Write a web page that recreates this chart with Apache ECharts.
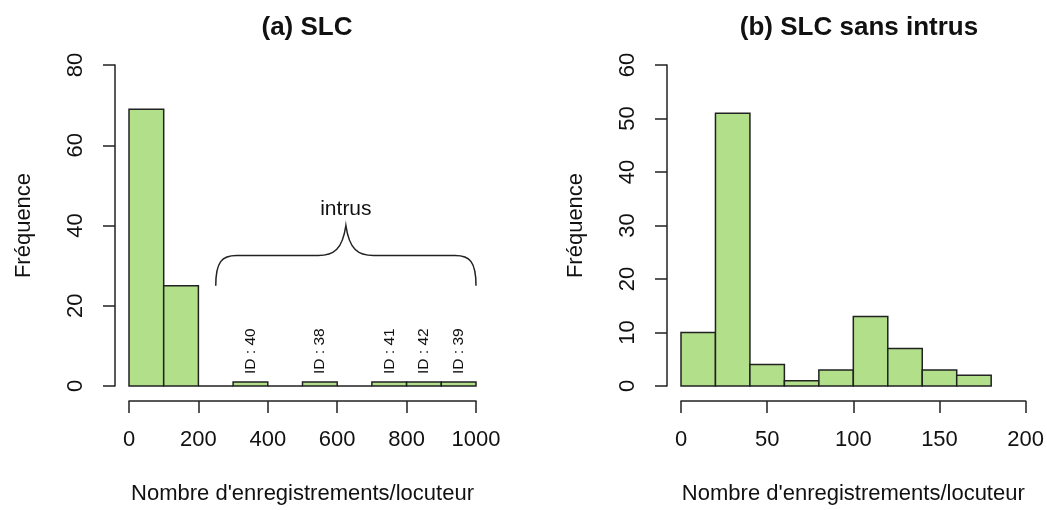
<!DOCTYPE html>
<html>
<head>
<meta charset="utf-8">
<script src="https://cdn.jsdelivr.net/npm/echarts@6/dist/echarts.min.js"></script>
<style>
html,body{margin:0;padding:0;background:#fff;}
#c{width:1047px;height:510px;}
</style>
</head>
<body>
<div id="c"></div>
<script>
// ---- data ----
const breaksA = [0, 100, 200, 300, 400, 500, 600, 700, 800, 900, 1000];
const countsA = [69, 25, 0, 1, 0, 1, 0, 1, 1, 1];
const breaksB = [0, 20, 40, 60, 80, 100, 120, 140, 160, 180];
const countsB = [10, 51, 4, 1, 3, 13, 7, 3, 2];
const idX = [350, 550, 750, 850, 950];
const idLabels = ['ID : 40', 'ID : 38', 'ID : 41', 'ID : 42', 'ID : 39'];
const idY = 3;
// brace annotation (data coords): left x, right x, base y, flat y, tip y
const brace = [250, 1000, 25, 32.5, 40];
const braceLabel = 'intrus';
const braceLabelY = 44;
const titles = ['(a) SLC', '(b) SLC sans intrus'];
const xName = "Nombre d'enregistrements/locuteur";
const yName = 'Fréquence';

const FONT = '"Liberation Sans", Arial, sans-serif';
const FILL = '#B2DF8A';
const INK = '#222';

function binData(breaks, counts) {
  return counts.map((c, i) => [breaks[i], breaks[i + 1], c]);
}

function histRender(params, api) {
  const a = api.coord([api.value(0), api.value(2)]);
  const b = api.coord([api.value(1), 0]);
  return {
    type: 'polygon',
    shape: { points: [[a[0], b[1]], [a[0], a[1]], [b[0], a[1]], [b[0], b[1]]] },
    style: { fill: FILL, stroke: INK, lineWidth: 1.5 }
  };
}

function xAxisCfg(grid, max, interval) {
  return {
    type: 'value', gridIndex: grid, min: 0, max: max, interval: interval,
    position: 'bottom', offset: 15,
    name: xName, nameLocation: 'middle', nameGap: 82,
    nameTextStyle: { fontFamily: FONT, fontSize: 22, color: '#111' },
    axisLine: { show: true, onZero: false, lineStyle: { color: INK, width: 1.5 } },
    axisTick: { show: true, length: 12, lineStyle: { color: INK, width: 1.5 } },
    axisLabel: { fontFamily: FONT, fontSize: 22, color: '#111', margin: 28,
                 formatter: v => String(v) },
    splitLine: { show: false }
  };
}
function yAxisCfg(grid, max, interval) {
  return {
    type: 'value', gridIndex: grid, min: 0, max: max, interval: interval,
    position: 'left', offset: 14,
    name: yName, nameLocation: 'middle', nameGap: 80,
    nameTextStyle: { fontFamily: FONT, fontSize: 22, color: '#111' },
    axisLine: { show: true, onZero: false, lineStyle: { color: INK, width: 1.5 } },
    axisTick: { show: true, length: 12, lineStyle: { color: INK, width: 1.5 } },
    axisLabel: { fontFamily: FONT, fontSize: 22, color: '#111', margin: 28, rotate: 90,
                 formatter: v => String(v) },
    splitLine: { show: false }
  };
}

const chart = echarts.init(document.getElementById('c'), null, { renderer: 'canvas' });
chart.setOption({
  backgroundColor: '#fff',
  animation: false,
  title: [
    { text: titles[0], left: 302, top: 10, textAlign: 'center',
      textStyle: { fontFamily: FONT, fontSize: 26, fontWeight: 'bold', color: '#111' } },
    { text: titles[1], left: 854, top: 10, textAlign: 'center',
      textStyle: { fontFamily: FONT, fontSize: 26, fontWeight: 'bold', color: '#111' } }
  ],
  grid: [
    { left: 129, width: 347, top: 65, height: 322 },
    { left: 681, width: 347, top: 65, height: 322 }
  ],
  xAxis: [xAxisCfg(0, 1000, 200), xAxisCfg(1, 200, 50)],
  yAxis: [yAxisCfg(0, 80, 20), yAxisCfg(1, 60, 10)],
  series: [
    { type: 'custom', xAxisIndex: 0, yAxisIndex: 0, data: binData(breaksA, countsA),
      renderItem: histRender, encode: { x: [0, 1], y: 2 } },
    { type: 'custom', xAxisIndex: 1, yAxisIndex: 1, data: binData(breaksB, countsB),
      renderItem: histRender, encode: { x: [0, 1], y: 2 } },
    { type: 'custom', xAxisIndex: 0, yAxisIndex: 0,
      data: idX.map((x, i) => [x, idY, idLabels[i]]),
      renderItem: function (params, api) {
        const p = api.coord([api.value(0), api.value(1)]);
        return {
          type: 'text', x: p[0], y: p[1], rotation: Math.PI / 2,
          style: { text: idLabels[params.dataIndex], fontFamily: FONT, fontSize: 15.5,
                   fill: '#111', align: 'left', verticalAlign: 'middle' }
        };
      } },
    { type: 'custom', xAxisIndex: 0, yAxisIndex: 0, data: [brace],
      renderItem: function (params, api) {
        const x0 = api.value(0), x1 = api.value(1), yb = api.value(2), yf = api.value(3), yt = api.value(4);
        const xm = (x0 + x1) / 2;
        const c = (x, y) => api.coord([x, y]);
        const P = (pt) => pt[0].toFixed(2) + ' ' + pt[1].toFixed(2);
        const d =
          'M ' + P(c(x0, yb)) +
          ' C ' + P(c(x0, yf - 1.5)) + ' ' + P(c(x0 + 18, yf)) + ' ' + P(c(x0 + 60, yf)) +
          ' L ' + P(c(xm - 80, yf)) +
          ' C ' + P(c(xm - 35, yf)) + ' ' + P(c(xm - 10, yf + 1.5)) + ' ' + P(c(xm, yt)) +
          ' C ' + P(c(xm + 10, yf + 1.5)) + ' ' + P(c(xm + 35, yf)) + ' ' + P(c(xm + 80, yf)) +
          ' L ' + P(c(x1 - 60, yf)) +
          ' C ' + P(c(x1 - 18, yf)) + ' ' + P(c(x1, yf - 1.5)) + ' ' + P(c(x1, yb));
        const lp = c(xm, braceLabelY);
        return {
          type: 'group',
          children: [
            { type: 'path', shape: { pathData: d },
              style: { fill: 'none', stroke: INK, lineWidth: 1.5 } },
            { type: 'text', x: lp[0], y: lp[1],
              style: { text: braceLabel, fontFamily: FONT, fontSize: 21, fill: '#111',
                       align: 'center', verticalAlign: 'middle' } }
          ]
        };
      } }
  ]
});
</script>
</body>
</html>
